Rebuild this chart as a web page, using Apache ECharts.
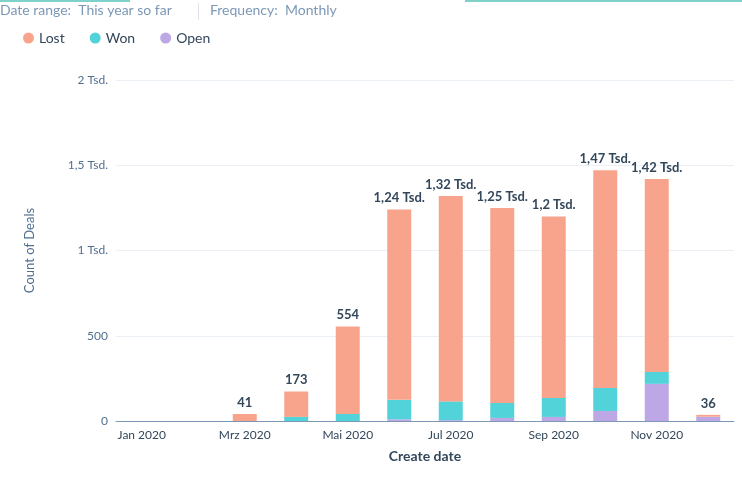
<!DOCTYPE html>
<html><head><meta charset="utf-8">
<script src="https://cdn.jsdelivr.net/npm/echarts@6/dist/echarts.min.js"></script>
<style>html,body{margin:0;background:#fff}#c{width:742px;height:477px}</style>
</head><body><div id="c"></div>
<script>
const months = ['Jan 2020','Feb 2020','Mrz 2020','Apr 2020','Mai 2020','Jun 2020','Jul 2020','Aug 2020','Sep 2020','Okt 2020','Nov 2020','Dez 2020'];
const open = [0,0,0,0,0,10,5,18,24,59,218,25];
const won = [0,0,0,24,41,114,110,88,111,135,70,0];
const totals = [0,0,41,173,554,1240,1320,1250,1200,1470,1420,36];
const lost = totals.map((t, i) => t - open[i] - won[i]);

function fmt(v) {
  if (v < 1000) return String(v);
  return String(+(v / 1000).toFixed(2)).replace('.', ',') + ' Tsd.';
}

const chart = echarts.init(document.getElementById('c'));
const font = 'Lato, "Open Sans", sans-serif';
chart.setOption({
  animation: false,
  textStyle: { fontFamily: font },
  graphic: [
    { type: 'rect', shape: { x: 0, y: 0, width: 130, height: 2 }, style: { fill: '#7fd1c9' } },
    { type: 'rect', shape: { x: 465, y: 0, width: 277, height: 2 }, style: { fill: '#7fd1c9' } },
    { type: 'text', left: 0, top: 3, style: { text: 'Date range:  This year so far', fill: '#7c98b6', fontSize: 14, fontFamily: font } },
    { type: 'rect', shape: { x: 198, y: 3, width: 1, height: 17 }, style: { fill: '#dfe3eb' } },
    { type: 'text', left: 210, top: 3, style: { text: 'Frequency:  Monthly', fill: '#7c98b6', fontSize: 14, fontFamily: font } }
  ],
  legend: {
    left: 18, top: 26, icon: 'circle', itemWidth: 11, itemHeight: 11, itemGap: 25,
    textStyle: { color: '#33475b', fontSize: 14 },
    data: ['Lost', 'Won', 'Open']
  },
  grid: { left: 116, right: 8, top: 80, bottom: 56 },
  xAxis: {
    type: 'category', data: months,
    name: 'Create date', nameLocation: 'middle', nameGap: 28,
    nameTextStyle: { color: '#33475b', fontSize: 14, fontWeight: 'bold' },
    axisLine: { lineStyle: { color: '#7c98b6' } },
    axisTick: { show: false },
    axisLabel: { interval: 1, color: '#33475b', fontSize: 12 }
  },
  yAxis: {
    type: 'value', min: 0, max: 2000, interval: 500,
    name: 'Count of Deals', nameLocation: 'middle', nameGap: 80,
    nameTextStyle: { color: '#516f90', fontSize: 13 },
    axisLabel: { color: '#516f90', fontSize: 12, formatter: fmt },
    splitLine: { lineStyle: { color: '#eaf0f6' } }
  },
  series: [
    { name: 'Open', type: 'bar', stack: 's', data: open, barWidth: 24, itemStyle: { color: '#bda7e5' } },
    { name: 'Won', type: 'bar', stack: 's', data: won, itemStyle: { color: '#51d3d9' } },
    { name: 'Lost', type: 'bar', stack: 's', data: lost, itemStyle: { color: '#f8a48c' },
      label: { show: true, position: 'top', color: '#33475b', fontWeight: 'bold', fontSize: 13,
        formatter: p => totals[p.dataIndex] ? fmt(totals[p.dataIndex]) : '' } }
  ]
});
</script></body></html>
